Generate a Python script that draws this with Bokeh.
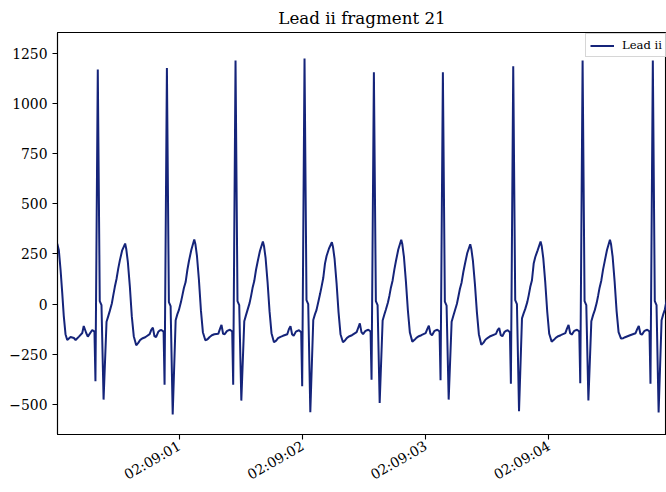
import numpy as np
import pandas as pd
from bokeh.plotting import figure
from bokeh.models import (Range1d, FixedTicker, DatetimeTickFormatter, Legend,
                          LegendItem, ColumnDataSource)
from bokeh.embed import file_html
from bokeh.resources import INLINE

# ---- data: time offset (ms) after 02:09:00 and lead ii value ----
base_time = "2000-01-01 02:09:00"
series_name = "Lead ii"
title_text = "Lead ii fragment 21"

time_ms = [
    9, 22, 36, 49, 62, 76, 90, 117, 144, 158, 185, 212, 224, 244, 257, 293, 311,
    # beat 1
    319, 338, 354, 368, 385, 409, 423, 435, 452, 464, 476, 490, 504, 517, 536, 560, 569, 582,
    598, 614, 630, 650, 668, 683, 703, 723, 759, 772, 785, 798, 811, 829, 844, 854, 872,
    # beat 2
    880, 899, 915, 929, 946, 970, 984, 996, 1013, 1025, 1037, 1051, 1065, 1078, 1097, 1121,
    1130, 1143, 1159, 1175, 1191, 1211, 1229, 1244, 1264, 1284, 1316, 1329, 1342, 1355, 1368,
    1386, 1401, 1411, 1429,
    # beat 3
    1437, 1456, 1472, 1486, 1503, 1527, 1541, 1553, 1570, 1582, 1594, 1608, 1622, 1635, 1654,
    1678, 1687, 1700, 1716, 1732, 1748, 1768, 1786, 1801, 1821, 1841, 1876, 1889, 1902, 1915,
    1928, 1946, 1961, 1971, 1989,
    # beat 4
    1997, 2016, 2032, 2046, 2063, 2087, 2101, 2113, 2130, 2142, 2154, 2168, 2182, 2195, 2214,
    2238, 2247, 2260, 2276, 2292, 2308, 2328, 2346, 2361, 2381, 2401, 2439, 2452, 2465, 2478,
    2491, 2509, 2524, 2534, 2552,
    # beat 5
    2560, 2579, 2595, 2609, 2626, 2650, 2664, 2676, 2693, 2705, 2717, 2731, 2745, 2758, 2777,
    2801, 2810, 2823, 2839, 2855, 2871, 2891, 2909, 2924, 2944, 2964, 2999, 3012, 3025, 3038,
    3051, 3069, 3084, 3094, 3112,
    # beat 6
    3120, 3139, 3155, 3169, 3186, 3210, 3224, 3236, 3253, 3265, 3277, 3291, 3305, 3318, 3337,
    3361, 3370, 3383, 3399, 3415, 3431, 3451, 3469, 3484, 3504, 3524, 3570, 3583, 3596, 3609,
    3622, 3640, 3655, 3665, 3683,
    # beat 7
    3691, 3710, 3726, 3740, 3757, 3781, 3795, 3807, 3824, 3836, 3848, 3862, 3876, 3889, 3908,
    3932, 3941, 3954, 3970, 3986, 4002, 4022, 4040, 4055, 4075, 4095, 4133, 4146, 4159, 4172,
    4185, 4203, 4218, 4228, 4246,
    # beat 8
    4254, 4273, 4289, 4303, 4320, 4344, 4358, 4372, 4387, 4399, 4411, 4425, 4439, 4452, 4471,
    4495, 4504, 4517, 4533, 4549, 4565, 4585, 4603, 4618, 4638, 4658, 4703, 4716, 4729, 4742,
    4755, 4773, 4788, 4798, 4816,
    # beat 9
    4824, 4843, 4859, 4873, 4890, 4914, 4928, 4940, 4957, 4969, 4981, 4995, 5009,
]

lead_ii = [
    301, 268, 170, 60, -60, -150, -179, -164, -169, -179, -162, -144, -109, -144, -162, -129, -137,
    # beat 1
    -385, 1170, 15, -5, -476, -88, -60, -35, 3, 45, 85, 125, 177, 218, 268, 302, 275, 210,
    90, -60, -160, -205, -192, -178, -170, -165, -150, -128, -117, -160, -165, -138, -130, -129, -137,
    # beat 2
    -402, 1177, 10, -10, -550, -80, -50, -30, 10, 45, 80, 110, 170, 215, 270, 322,
    300, 240, 120, -30, -140, -180, -175, -165, -155, -150, -148, -125, -104, -148, -150,
    -135, -130, -128, -137,
    # beat 3
    -402, 1215, 15, -5, -481, -85, -55, -30, 5, 40, 80, 115, 170, 210, 265,
    312, 290, 230, 110, -35, -145, -190, -182, -170, -163, -158, -150, -125, -110, -150,
    -158, -137, -133, -130, -140,
    # beat 4
    -410, 1224, 20, 0, -539, -79, -50, -30, 17, 50, 86, 130, 202, 240, 276,
    309, 285, 225, 105, -40, -150, -190, -180, -168, -160, -155, -140, -118, -96, -140,
    -150, -135, -130, -128, -137,
    # beat 5
    -377, 1156, 15, -5, -493, -82, -52, -28, 8, 42, 82, 118, 172, 215, 272,
    321, 298, 235, 112, -32, -142, -187, -178, -168, -160, -155, -145, -125, -108, -148,
    -155, -135, -130, -128, -137,
    # beat 6
    -380, 1156, 12, -8, -476, -88, -58, -33, 2, 38, 75, 108, 160, 200, 255,
    298, 275, 215, 100, -40, -150, -203, -192, -178, -168, -160, -148, -130, -119, -155,
    -160, -138, -132, -130, -140,
    # beat 7
    -397, 1186, 20, 0, -534, -71, -45, -25, 10, 45, 85, 119, 202, 235, 268,
    312, 290, 228, 108, -38, -148, -187, -178, -168, -160, -155, -145, -122, -104, -145,
    -152, -135, -130, -128, -137,
    # beat 8
    -394, 1215, 15, -5, -480, -85, -55, -30, 5, 42, 82, 118, 172, 212, 270,
    321, 298, 235, 112, -35, -140, -172, -170, -165, -160, -155, -145, -125, -109, -148,
    -152, -135, -130, -128, -137,
    # beat 9
    -397, 1215, 15, -5, -540, -80, -50, -28, 25, 48, 82, 118, 172,
]

y_ticks = [-500, -250, 0, 250, 500, 750, 1000, 1250]
x_tick_seconds = [1, 2, 3, 4, 5]

# ---- build ----
t0 = pd.Timestamp(base_time)
times = t0 + pd.to_timedelta(np.array(time_ms), unit="ms")
src = ColumnDataSource(dict(t=times, v=lead_ii))

t0_ms = t0.value / 1e6
x_start = t0_ms + 11
x_end = t0_ms + 4954

FONT = "DejaVu Serif"
p = figure(width=666, height=492, x_axis_type="datetime",
           x_range=Range1d(x_start, x_end), y_range=Range1d(-650, 1354),
           output_backend="svg", toolbar_location=None,
           min_border_left=57, min_border_right=0, min_border_top=31,
           min_border_bottom=57, background_fill_color="white",
           border_fill_color="white")

r = p.line("t", "v", source=src, line_color="#15247a", line_width=2.0)

p.title.text = title_text
p.title.align = "center"
p.title.offset = 3
p.title.text_font = FONT
p.title.text_font_size = "16.7px"
p.title.text_font_style = "normal"
p.title.text_color = "black"

p.grid.visible = False
p.outline_line_color = "black"
p.outline_line_width = 1.1
p.outline_line_alpha = 1.0

for ax in (p.xaxis[0], p.yaxis[0]):
    ax.axis_line_color = "black"
    ax.axis_line_width = 1.1
    ax.major_tick_line_color = "black"
    ax.major_tick_line_width = 1.1
    ax.major_tick_out = 5
    ax.major_tick_in = 0
    ax.minor_tick_line_color = None
    ax.major_label_text_font = FONT
    ax.major_label_text_font_size = "13.9px"
    ax.major_label_text_color = "black"
    ax.major_label_standoff = 5

p.yaxis.ticker = FixedTicker(ticks=y_ticks)
p.yaxis.major_label_overrides = {v: (("\u2212" + str(-v)) if v < 0 else str(v)) for v in y_ticks}

p.xaxis.ticker = FixedTicker(ticks=[t0_ms + s * 1000 for s in x_tick_seconds])
p.xaxis.formatter = DatetimeTickFormatter(seconds="%H:%M:%S", milliseconds="%H:%M:%S",
                                          minutes="%H:%M:%S", minsec="%H:%M:%S",
                                          hourmin="%H:%M:%S", hours="%H:%M:%S")
p.xaxis.major_label_orientation = np.pi / 6

legend = Legend(items=[LegendItem(label=series_name, renderers=[r])],
                location=(528, 377), margin=0, padding=4, spacing=0,
                glyph_width=24, glyph_height=13, label_height=13,
                label_standoff=8, label_text_font=FONT,
                label_text_font_size="11.6px", label_text_color="black",
                border_line_color="#cccccc", border_line_alpha=0.8,
                border_line_width=1, background_fill_color="white",
                background_fill_alpha=0.8)
p.add_layout(legend)

open("out.html", "w").write(file_html(p, INLINE))
